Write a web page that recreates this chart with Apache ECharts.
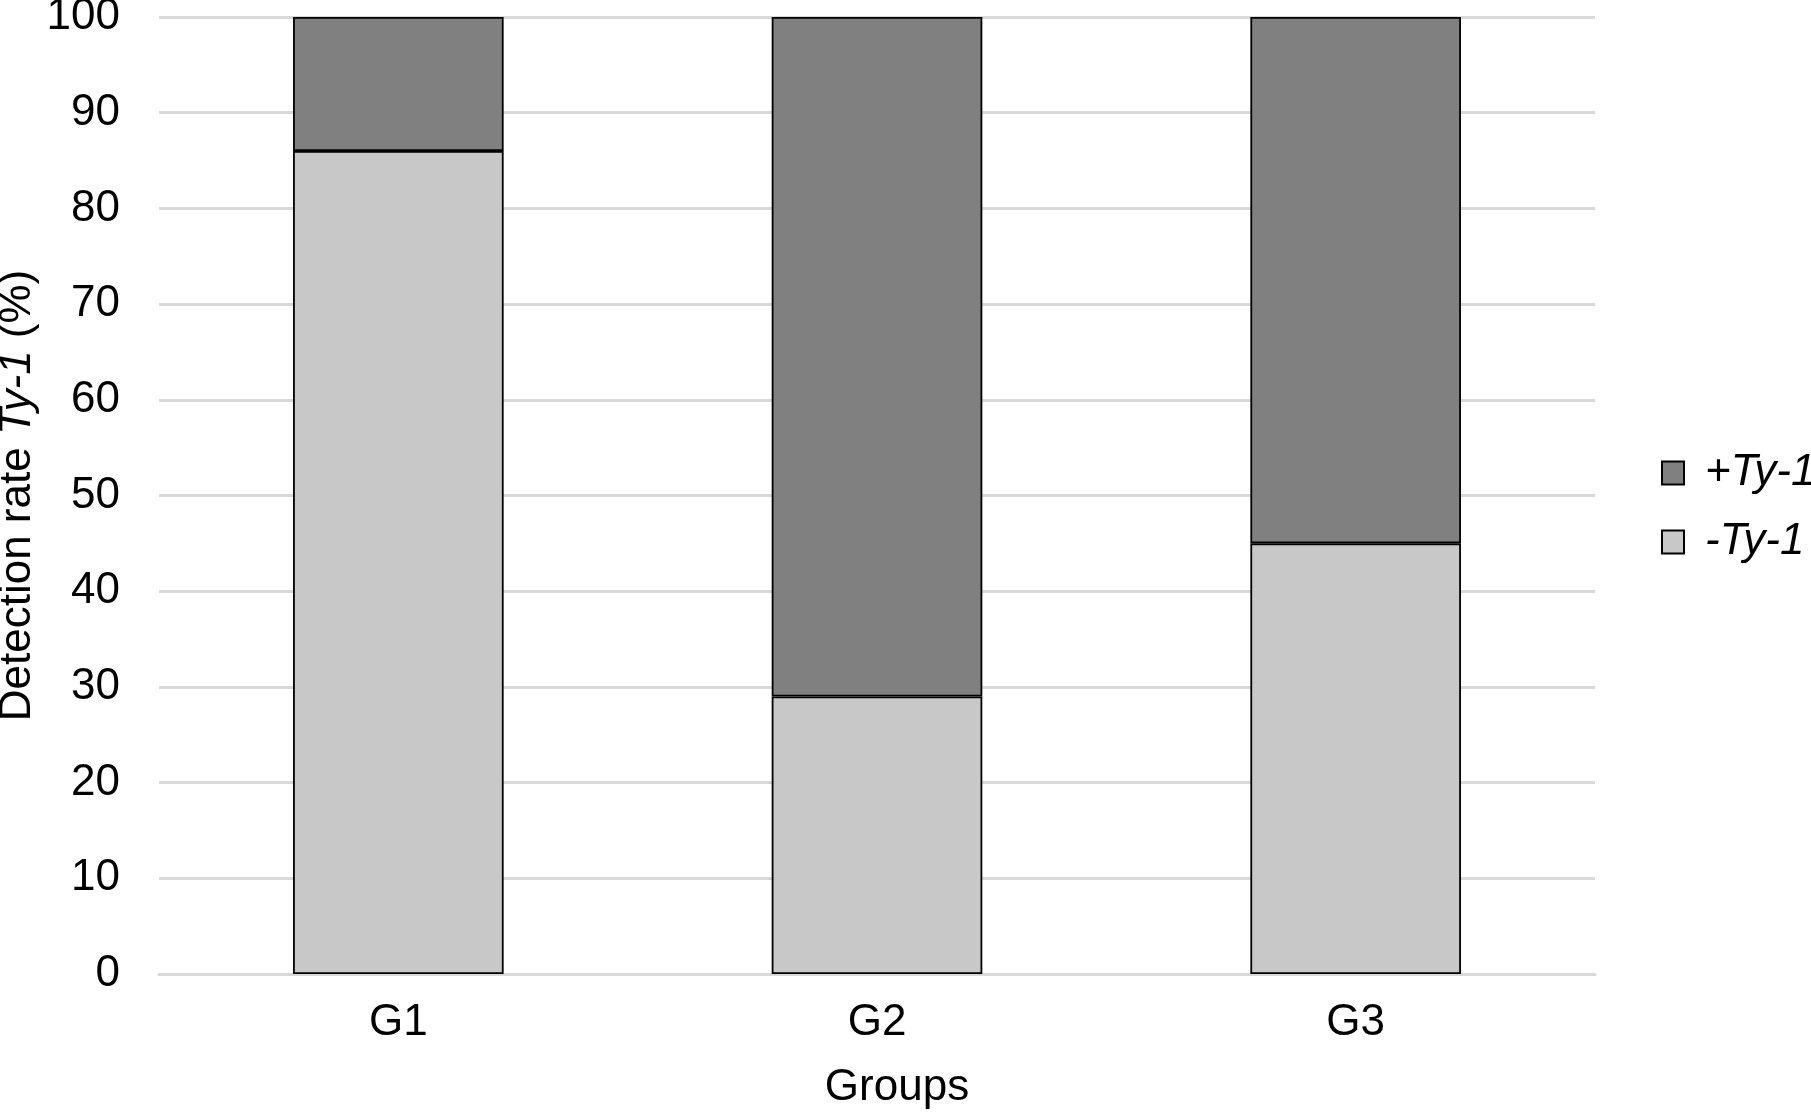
<!DOCTYPE html>
<html>
<head>
<meta charset="utf-8">
<script src="https://cdn.jsdelivr.net/npm/echarts@6/dist/echarts.min.js"></script>
<style>
html,body{margin:0;padding:0;background:#fff;}
#chart{width:1811px;height:1113px;}
</style>
</head>
<body>
<div id="chart"></div>
<script>
const categories = ['G1', 'G2', 'G3'];
const negTy1 = [86, 29, 45];
const posTy1 = [14, 71, 55];
const yTicks = [0, 100, 10];

const FONT = 'Liberation Sans, Arial, sans-serif';
const FS = 44;
const chart = echarts.init(document.getElementById('chart'));
chart.setOption({
  backgroundColor: '#ffffff',
  animation: false,
  textStyle: { fontFamily: FONT },
  grid: { left: 159, right: 216, top: 17, bottom: 139, containLabel: false, outerBoundsMode: 'none' },
  legend: {
    data: ['+Ty-1', '-Ty-1'],
    orient: 'vertical',
    left: 1656,
    top: 445,
    icon: 'rect',
    itemWidth: 22,
    itemHeight: 23,
    itemGap: 23,
    itemStyle: { borderColor: '#000', borderWidth: 2 },
    textStyle: { fontFamily: FONT, fontSize: FS, fontStyle: 'italic', color: '#000', lineHeight: 46, padding: [0, 0, 0, 16] }
  },
  xAxis: {
    type: 'category',
    data: categories,
    name: 'Groups',
    nameLocation: 'middle',
    nameGap: 92,
    nameMoveOverlap: false,
    nameTextStyle: { fontFamily: FONT, fontSize: FS, color: '#000', padding: [0, 0, 0, 40] },
    axisLine: { show: true, lineStyle: { color: '#d9d9d9', width: 3 } },
    axisTick: { show: false },
    axisLabel: { fontFamily: FONT, fontSize: FS, color: '#000', margin: 27 }
  },
  yAxis: {
    type: 'value',
    min: yTicks[0],
    max: yTicks[1],
    interval: yTicks[2],
    name: '{n|Detection rate }{i|Ty-1}{n| (%)}',
    nameLocation: 'middle',
    nameGap: 119,
    nameMoveOverlap: false,
    nameRotate: 90,
    nameTextStyle: {
      rich: {
        n: { fontFamily: FONT, fontSize: FS, color: '#000' },
        i: { fontFamily: FONT, fontSize: FS, color: '#000', fontStyle: 'italic' }
      }
    },
    axisLine: { show: false },
    axisTick: { show: false },
    axisLabel: { fontFamily: FONT, fontSize: FS, color: '#000', margin: 39 },
    splitLine: { lineStyle: { color: '#d9d9d9', width: 3 } }
  },
  series: [
    {
      name: '-Ty-1',
      type: 'bar',
      stack: 'total',
      data: negTy1,
      barWidth: '44%',
      itemStyle: { color: '#c8c8c8', borderColor: '#000', borderWidth: 1.8 }
    },
    {
      name: '+Ty-1',
      type: 'bar',
      stack: 'total',
      data: posTy1,
      barWidth: '44%',
      itemStyle: { color: '#808080', borderColor: '#000', borderWidth: 1.8 }
    }
  ]
});
</script>
</body>
</html>
